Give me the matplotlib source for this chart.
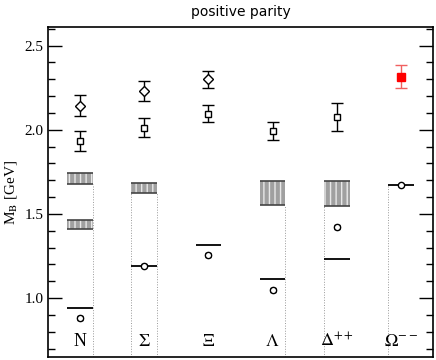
import numpy as np
import matplotlib.pyplot as plt

plt.rcParams['font.family'] = ['Liberation Serif', 'DejaVu Serif']
plt.rcParams['mathtext.fontset'] = 'stix'

# 重子名称与位置
labels = ['N', r'$\Sigma$', r'$\Xi$', r'$\Lambda$', r'$\Delta^{++}$', r'$\Omega^{--}$']
xpos = np.arange(1, 7)

# 实验值 (横线)
m_exp = [0.939, 1.193, 1.318, 1.116, 1.232, 1.672]

# 基态 (圆圈)
m_ground = [0.879, 1.192, 1.256, 1.048, 1.423, 1.671]
e_ground = [0.012, 0.008, 0.010, 0.010, 0.012, 0.008]

# 第一激发态 (方块) N, Σ, Ξ, Λ, Δ
x_sq = [1, 2, 3, 4, 5]
m_sq = [1.933, 2.012, 2.095, 1.992, 2.077]
e_sq = [0.062, 0.058, 0.052, 0.052, 0.083]

# 第二激发态 (菱形) N, Σ, Ξ
x_dia = [1, 2, 3]
m_dia = [2.143, 2.230, 2.300]
e_dia = [0.062, 0.058, 0.050]

# Ω 的红色方块
x_om = [6]
m_om = [2.314]
e_om = [0.068]

# 阴影带 (位置, 下沿, 上沿)
band_x = [1, 1, 2, 4, 5]
band_lo = [1.677, 1.413, 1.627, 1.554, 1.544]
band_hi = [1.740, 1.464, 1.686, 1.696, 1.696]

# 虚线 (位置, 侧边, 起点)
vl_x = [1, 2, 2, 4, 5, 6]
vl_side = [1, -1, 1, 1, -1, -1]
vl_top = [1.677, 1.627, 1.627, 1.554, 1.544, 1.672]

hw = 0.2
fig, ax = plt.subplots(figsize=(4.36, 3.6), dpi=100)
fig.subplots_adjust(left=48 / 436, right=433 / 436, top=1 - 27 / 360, bottom=1 - 357 / 360)
ymin, ymax = 0.65, 2.61

for x, s, t in zip(vl_x, vl_side, vl_top):
    ax.plot([x + s * hw, x + s * hw], [ymin, t], ls=':', color='#999999', lw=0.7, zorder=1)

for x, lo, hi in zip(band_x, band_lo, band_hi):
    ax.bar(x, hi - lo, bottom=lo, width=2 * hw, color='#a0a0a0', edgecolor='#e8e8e8',
           hatch='|||', linewidth=0, zorder=2)
    ax.hlines([lo, hi], x - hw, x + hw, color='#444444', lw=1.2, zorder=3)

ax.hlines(m_exp, xpos - hw, xpos + hw, color='black', lw=1.3, zorder=3)

ax.errorbar(xpos, m_ground, yerr=e_ground, fmt='o', ms=4.5, mfc='white', mec='black',
            ecolor='black', capsize=2.5, elinewidth=1, zorder=4)
ax.errorbar(x_sq, m_sq, yerr=e_sq, fmt='s', ms=5, mfc='white', mec='black',
            ecolor='black', capsize=4.5, elinewidth=1, capthick=1, zorder=4)
ax.errorbar(x_dia, m_dia, yerr=e_dia, fmt='D', ms=5, mfc='white', mec='black',
            ecolor='black', capsize=4.5, elinewidth=1, capthick=1, zorder=4)
ax.errorbar(x_om, m_om, yerr=e_om, fmt='s', ms=5.5, mfc='red', mec='red',
            ecolor='#f06060', capsize=4.5, elinewidth=1, capthick=1, zorder=4)

for x, lab in zip(xpos, labels):
    ax.text(x, 0.745, lab, ha='center', va='center', fontsize=13)

ax.set_xlim(0.5, 6.5)
ax.set_ylim(ymin, ymax)
ax.set_xticks([])
ax.set_yticks([1.0, 1.5, 2.0, 2.5])
ax.set_yticks(np.arange(0.7, 2.61, 0.1), minor=True)
ax.tick_params(axis='y', which='both', direction='in', left=True, right=True,
               labelsize=11, pad=3)
ax.tick_params(axis='y', which='major', length=10, width=1)
ax.tick_params(axis='y', which='minor', length=5, width=1)
for sp in ax.spines.values():
    sp.set_linewidth(1.2)

ax.set_ylabel(r'M$_\mathrm{B}$ [GeV]', fontsize=11, labelpad=4)
ax.set_title('positive parity', fontsize=10, family='DejaVu Sans', pad=8)

plt.savefig('out.png')
